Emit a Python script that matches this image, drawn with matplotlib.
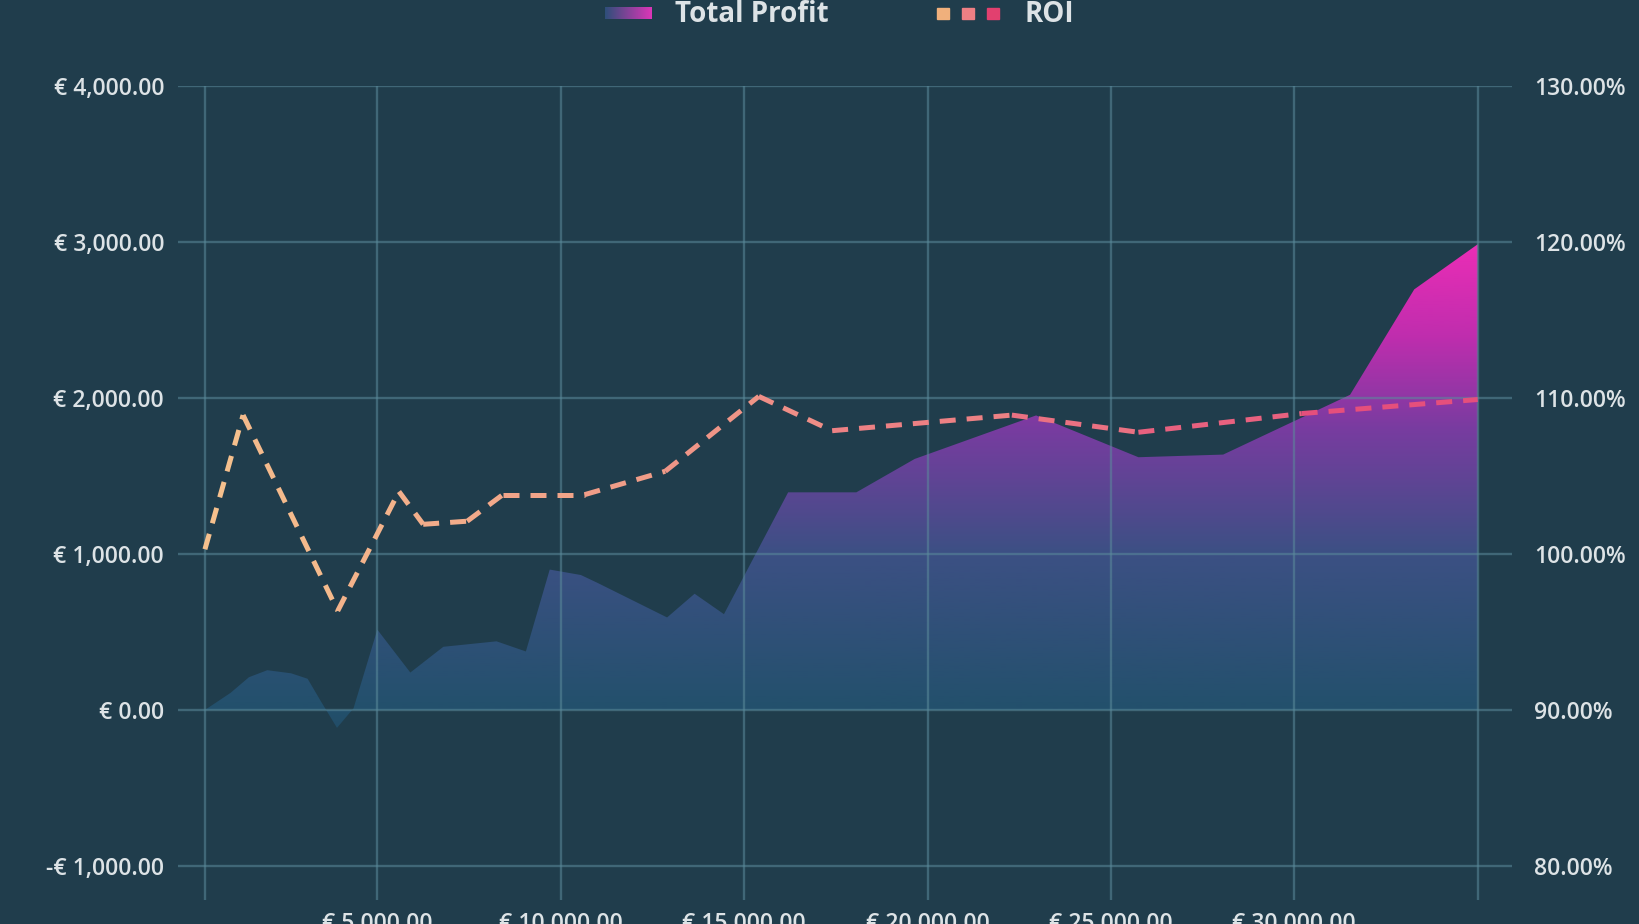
import numpy as np
import matplotlib
matplotlib.use("Agg")
import matplotlib.pyplot as plt
from matplotlib.collections import LineCollection
from matplotlib.colors import LinearSegmentedColormap
from matplotlib.patches import Rectangle

plt.rcParams['font.family'] = ['Open Sans', 'DejaVu Sans']

# Total Profit (left axis, EUR) against cumulative stake (EUR)
profit_x = [300, 1000, 1500, 2000, 2650, 3100, 3450, 3900, 4350, 5000, 5900, 6800,
            8250, 9050, 9700, 10550, 11000, 12900, 13650, 14450, 16200, 18060,
            19650, 22960, 25750, 28060, 31520, 33270, 35000]
profit = [0, 110, 210, 255, 235, 200, 60, -115, 10, 515, 240, 405,
          440, 375, 900, 865, 815, 593, 745, 614, 1395, 1395,
          1609, 1888, 1620, 1637, 2020, 2696, 2985]

# ROI (right axis, %)
roi_x = [300, 1340, 3920, 5590, 6250, 7450, 8420, 10650, 12850, 15400,
         17400, 22300, 25750, 30200, 35000]
roi = [100.3, 108.9, 96.35, 104.0, 101.9, 102.1, 103.8, 103.8, 105.3, 110.1,
       107.9, 108.9, 107.8, 109.0, 109.9]

x_ticks = [300, 5000, 10000, 15000, 20000, 25000, 30000, 35000]
x_labels = ['', '€ 5,000.00', '€ 10,000.00', '€ 15,000.00', '€ 20,000.00',
            '€ 25,000.00', '€ 30,000.00', '']
left_ticks = [-1000, 0, 1000, 2000, 3000, 4000]
right_ticks = [80, 90, 100, 110, 120, 130]

bg = '#203d4c'
txt = '#dde3e6'
grid_c = '#5b8b9b'

fig = plt.figure(figsize=(16.4, 9.24), dpi=100, facecolor=bg)
ax = fig.add_axes([0.1085, 0.026, 0.8134, 0.881])
ax.set_facecolor(bg)

# gradient area for total profit
area_cmap = LinearSegmentedColormap.from_list('area', [
    (0.0, (33/255, 75/255, 100/255)),
    (200/3200, (35/255, 80/255, 108/255)),
    (1200/3200, (60/255, 80/255, 132/255)),
    (2000/3200, (120/255, 60/255, 160/255)),
    (2600/3200, (192/255, 45/255, 174/255)),
    (1.0, (236/255, 45/255, 182/255)),
])
xlim = (-436, 35933)
ylim = (-1218, 4000)
poly = ax.fill_between(profit_x, profit, 0, facecolor='none', edgecolor='none')
grad = np.linspace(0, 1, 256).reshape(-1, 1)
img = ax.imshow(grad, cmap=area_cmap, aspect='auto', origin='lower',
                extent=(xlim[0], xlim[1], -200, 3000), zorder=1)
img.set_clip_path(poly.get_paths()[0], ax.transData)

ax.set_xlim(*xlim)
ax.set_ylim(*ylim)
ax.set_xticks(x_ticks)
ax.set_xticklabels(x_labels)
ax.set_yticks(left_ticks)
ax.set_yticklabels([('-€ ' if v < 0 else '€ ') + f'{abs(v):,.2f}' for v in left_ticks])
ax.grid(True, color=grid_c, lw=1.7, alpha=0.55)
ax.set_axisbelow(False)
ax.tick_params(axis='y', length=0, pad=10, labelcolor=txt)
ax.tick_params(axis='x', length=0, pad=8.5, labelcolor=txt)
for lab in ax.get_xticklabels() + ax.get_yticklabels():
    lab.set_fontsize(16.5)
    lab.set_fontweight('semibold')
for s in ax.spines.values():
    s.set_visible(False)

ax2 = ax.twinx()
ax2.set_ylim(77.82, 130)
ax2.set_yticks(right_ticks)
ax2.set_yticklabels([f'{v:.2f}%' for v in right_ticks], fontsize=16.5,
                    fontweight='semibold')
ax2.tick_params(axis='y', length=0, pad=16, labelcolor=txt)
for s in ax2.spines.values():
    s.set_visible(False)

roi_cmap = LinearSegmentedColormap.from_list('roi', ['#f5c18d', '#ee8a86', '#e4467a'])
pts = np.column_stack([roi_x, roi])
segs = np.stack([pts[:-1], pts[1:]], axis=1)
mids = (np.array(roi_x[:-1]) + np.array(roi_x[1:])) / 2
cols = roi_cmap((mids - roi_x[0]) / (roi_x[-1] - roi_x[0]))
lc = LineCollection(segs, colors=cols, linewidths=3.6,
                    linestyles=[(0, (3.2, 2.2))], capstyle='butt', zorder=3)
ax2.add_collection(lc)

# legend (drawn by hand at the top)
W, H = 1640, 924
lax = fig.add_axes([605 / W, 1 - 19 / H, 47 / W, 12 / H])
lax.imshow(np.linspace(0, 1, 64).reshape(1, -1),
           cmap=LinearSegmentedColormap.from_list('leg', ['#2f4f7a', '#dc36b8']),
           aspect='auto')
lax.axis('off')
fig.text(675 / W, 1 - 14 / H, 'Total Profit', color=txt, fontsize=20,
         fontweight='bold', va='center', ha='left')
for xs, c in zip([937, 962, 987], ['#f0b07c', '#ee7f84', '#e2406f']):
    fig.patches.append(Rectangle((xs / W, 1 - 19 / H), 12 / W, 11 / H,
                                 transform=fig.transFigure, color=c))
fig.text(1025 / W, 1 - 14 / H, 'ROI', color=txt, fontsize=20,
         fontweight='bold', va='center', ha='left')

fig.savefig('out.png', dpi=100, facecolor=bg)
